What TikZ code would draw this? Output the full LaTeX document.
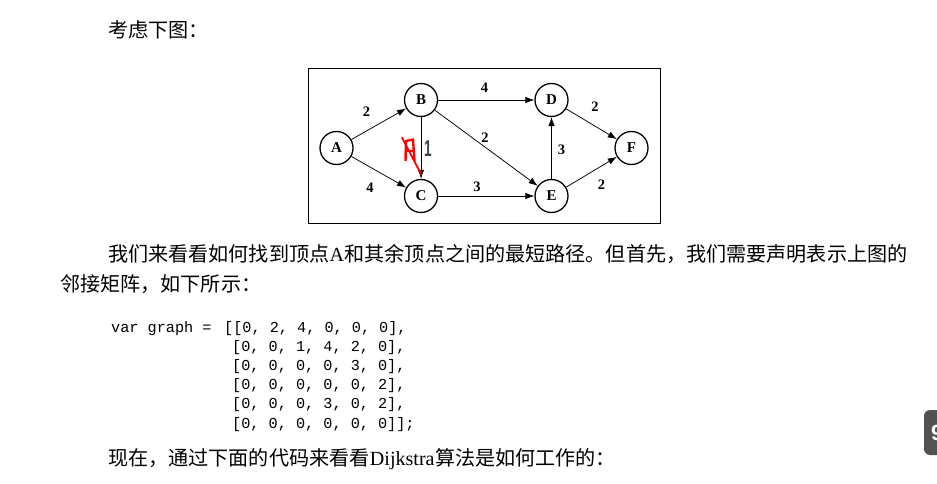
\documentclass[tikz,border=0pt]{standalone}
\usepackage{fontspec}
\setmainfont{Liberation Serif}
\setmonofont{Liberation Mono}
\setsansfont{Liberation Sans}
\newfontfamily\cjk{Noto Sans CJK SC}
\usetikzlibrary{arrows.meta}

\begin{document}
\begin{tikzpicture}[
    x=1pt, y=-1pt,
    vertex/.style={
      circle, draw=black, line width=1.3pt, minimum size=33pt,
      inner sep=0pt, font=\fontsize{15}{15}\selectfont\bfseries
    },
    edge/.style={-{Latex[length=9pt,width=6.5pt]}, line width=0.75pt},
    weight/.style={inner sep=0pt, font=\fontsize{14.5}{14.5}\selectfont\bfseries},
    body/.style={anchor=base west, inner sep=0pt, font=\fontsize{20.1}{20.1}\selectfont},
    code/.style={anchor=base west, inner sep=0pt, font=\ttfamily\fontsize{15.2}{15.2}\selectfont},
  ]
  \useasboundingbox[fill=white] (0,0) rectangle (937,484);

  %% Text above
  \node[body] (intro) at (108,38) {\cjk 考虑下图：};

  %% Frame and vertices
  \draw[line width=0.9pt] (308,68) rectangle (660,223);
  \node[vertex] (A) at (336.5,148) {A};
  \node[vertex] (B) at (421,100) {B};
  \node[vertex] (C) at (421,196) {C};
  \node[vertex] (D) at (551.5,100) {D};
  \node[vertex] (E) at (551.5,196) {E};
  \node[vertex] (F) at (631.5,148) {F};

  %% Edges
  \draw[edge] (A) -- (B);
  \draw[edge] (A) -- (C);
  \draw[edge] (B) -- (C);
  \draw[edge] (B) -- (D);
  \draw[edge] (B) -- (E);
  \draw[edge] (C) -- (E);
  \draw[edge] (E) -- (D);
  \draw[edge] (D) -- (F);
  \draw[edge] (E) -- (F);

  %% Weights
  \node[weight] (wab) at (366.5,111.5) {2};
  \node[weight] (wac) at (370,188) {4};
  \node[weight, text=black!75, font=\sffamily\bfseries\fontsize{17}{17}\selectfont]
    (wbc) at (428,149) {\scalebox{0.8}[1.35]{1}};
  \node[weight] (wbd) at (484.5,88) {4};
  \node[weight] (wbe) at (485,137.5) {2};
  \node[weight] (wce) at (477,186.5) {3};
  \node[weight] (wed) at (561.5,150) {3};
  \node[weight] (wdf) at (595,106.5) {2};
  \node[weight] (wef) at (601.5,185) {2};

  %% Red mark by hand
  \draw[red, line width=2.4pt, line join=round]
    (405.5,161) -- (406,141) -- (413,139.5) -- (414.5,161);
  \draw[red, line width=1.8pt] (406,151) -- (413.5,151);
  \draw[red, line width=1.8pt, line cap=round] (402,137.5) -- (421,174);

  %% Paragraph
  \node[body] (para1) at (108,261) {\cjk 我们来看看如何找到顶点};
  \node[body] (para1b) at (para1.base east) {A};
  \node[body] (para1c) at (para1b.base east)
    {\cjk 和其余顶点之间的最短路径。但首先，我们需要声明表示上图的};
  \node[body] (para2) at (60,291) {\cjk 邻接矩阵，如下所示：};

  %% Adjacency matrix
  \node[code] (decl) at (111,332) {var graph =};
  \node[code] (row1) at (224,332) {[[0, 2, 4, 0, 0, 0],};
  \node[code] (row2) at (232,351.2) {[0, 0, 1, 4, 2, 0],};
  \node[code] (row3) at (232,370.4) {[0, 0, 0, 0, 3, 0],};
  \node[code] (row4) at (232,389.6) {[0, 0, 0, 0, 0, 2],};
  \node[code] (row5) at (232,408.8) {[0, 0, 0, 3, 0, 2],};
  \node[code] (row6) at (232,428) {[0, 0, 0, 0, 0, 0]];};

  %% Closing line
  \node[body] (outro1) at (108,465) {\cjk 现在，通过下面的代码来看看};
  \node[body] (outro2) at (outro1.base east) {Dijkstra};
  \node[body] (outro3) at (outro2.base east) {\cjk 算法是如何工作的：};

  %% Page badge at the right edge
  \fill[black!68, rounded corners=6pt] (924,410) rectangle (960,455);
  \node[anchor=west, inner sep=0pt, text=white, font=\sffamily\bfseries\fontsize{22}{22}\selectfont] (badge) at (931,432.5) {9};

\end{tikzpicture}
\end{document}
